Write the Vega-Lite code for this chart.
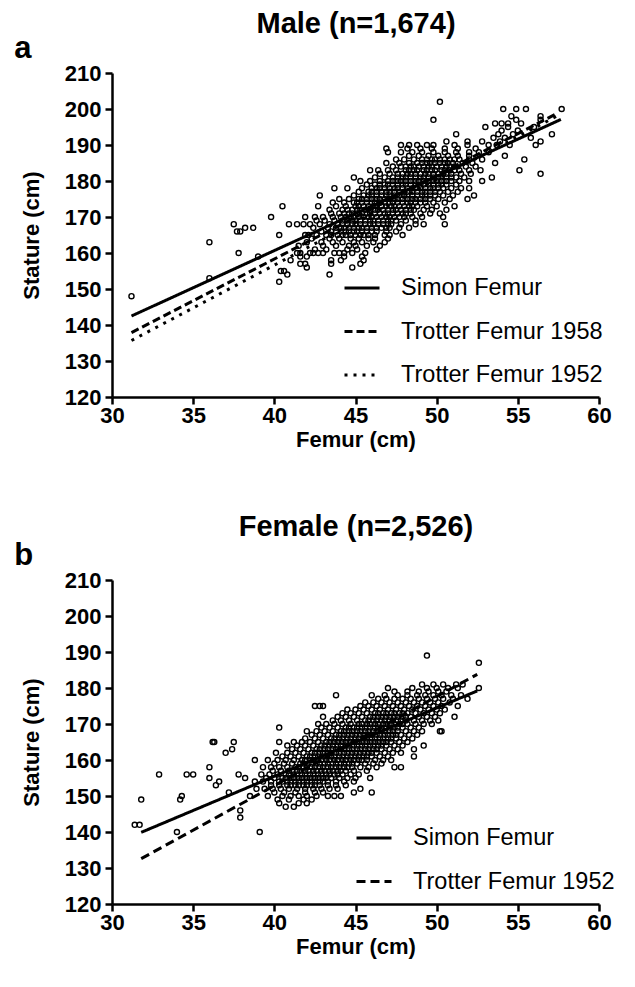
{
"$schema":"https://vega.github.io/schema/vega-lite/v6.json",
"background":"white",
"padding":{"left":14,"top":9,"right":5,"bottom":5},
"config":{
"font":"Liberation Sans",
"view":{"stroke":null},
"axis":{"grid":false,"domainColor":"#000","domainWidth":2.5,"tickColor":"#000","tickWidth":2.5,"tickSize":7,"labelFont":"Liberation Sans","labelFontSize":22,"labelFontWeight":"bold","labelColor":"#000","labelOverlap":false,"labelFlush":false,"titleFont":"Liberation Sans","titleFontSize":22,"titleFontWeight":"bold","titleColor":"#000","labelPadding":4},
"legend":{"symbolType":"stroke","symbolSize":1225,"symbolStrokeWidth":3,"symbolStrokeColor":"#000","labelFont":"Liberation Sans","labelFontSize":23.5,"labelColor":"#000","labelOffset":20,"labelLimit":400,"rowPadding":12.5,"title":null,"orient":"none"},
"title":{"font":"Liberation Sans","fontWeight":"bold","color":"#000"},
"concat":{"spacing":62}
},
"resolve":{"scale":{"strokeDash":"independent"},"legend":{"strokeDash":"independent"}},
"datasets":{
"maleLines":[
{"equation":"Simon Femur","femur":31.2,"stature":142.5},{"equation":"Simon Femur","femur":57.65,"stature":197.1},
{"equation":"Trotter Femur 1958","femur":31.2,"stature":137.9},{"equation":"Trotter Femur 1958","femur":57.3,"stature":198.5},
{"equation":"Trotter Femur 1952","femur":31.2,"stature":135.7},{"equation":"Trotter Femur 1952","femur":57.6,"stature":198.5}],
"femaleLines":[
{"equation":"Simon Femur","femur":31.8,"stature":139.9},{"equation":"Simon Femur","femur":52.5,"stature":179.2},
{"equation":"Trotter Femur 1952","femur":31.8,"stature":132.6},{"equation":"Trotter Femur 1952","femur":52.5,"stature":183.8}],
"male":[
{"femur":31.2,"stature":148},{"femur":40.3,"stature":152},{"femur":36.0,"stature":153},{"femur":43.4,"stature":154},{"femur":40.8,"stature":154},{"femur":40.4,"stature":155},{"femur":40.6,"stature":155},{"femur":42.0,"stature":156},{"femur":44.8,"stature":156},
{"femur":43.5,"stature":157},{"femur":41.6,"stature":157},{"femur":41.9,"stature":157},{"femur":45.3,"stature":157},
{"femur":41.0,"stature":158},{"femur":43.5,"stature":158},{"femur":44.1,"stature":158},{"femur":45.5,"stature":158},
{"femur":39.0,"stature":159},{"femur":41.6,"stature":159},{"femur":42.0,"stature":159},{"femur":44.3,"stature":159},{"femur":45.4,"stature":159},
{"femur":37.8,"stature":160},{"femur":41.4,"stature":160},{"femur":41.6,"stature":160},{"femur":42.2,"stature":160},{"femur":42.4,"stature":160},{"femur":42.7,"stature":160},{"femur":43.0,"stature":160},{"femur":43.7,"stature":160},{"femur":44.0,"stature":160},{"femur":44.3,"stature":160},{"femur":44.8,"stature":160},{"femur":45.6,"stature":160},
{"femur":42.5,"stature":161},{"femur":43.2,"stature":161},{"femur":44.5,"stature":161},{"femur":45.1,"stature":161},{"femur":46.3,"stature":161},
{"femur":41.5,"stature":162},{"femur":43.0,"stature":162},{"femur":43.8,"stature":162},{"femur":44.6,"stature":162},{"femur":45.0,"stature":162},{"femur":45.7,"stature":162},{"femur":46.5,"stature":162},
{"femur":36.0,"stature":163},{"femur":42.0,"stature":163},{"femur":42.9,"stature":163},{"femur":43.6,"stature":163},{"femur":44.2,"stature":163},{"femur":44.9,"stature":163},{"femur":45.4,"stature":163},{"femur":46.1,"stature":163},{"femur":46.8,"stature":163},
{"femur":42.3,"stature":164},{"femur":43.4,"stature":164},{"femur":44.0,"stature":164},{"femur":44.7,"stature":164},{"femur":45.2,"stature":164},{"femur":45.8,"stature":164},{"femur":46.2,"stature":164},{"femur":47.0,"stature":164},
{"femur":40.3,"stature":165},{"femur":41.9,"stature":165},{"femur":42.1,"stature":165},{"femur":42.6,"stature":165},{"femur":43.2,"stature":165},{"femur":43.9,"stature":165},{"femur":44.4,"stature":165},{"femur":45.0,"stature":165},{"femur":45.5,"stature":165},{"femur":46.2,"stature":165},{"femur":46.8,"stature":165},{"femur":47.1,"stature":165},{"femur":47.9,"stature":165},
{"femur":43.5,"stature":165},{"femur":44.2,"stature":165},{"femur":44.7,"stature":165},{"femur":45.3,"stature":165},{"femur":45.8,"stature":165},
{"femur":37.7,"stature":166},{"femur":37.9,"stature":166},{"femur":42.9,"stature":166},{"femur":43.5,"stature":166},{"femur":44.1,"stature":166},{"femur":44.6,"stature":166},{"femur":45.1,"stature":166},{"femur":45.7,"stature":166},{"femur":46.3,"stature":166},{"femur":46.9,"stature":166},{"femur":47.5,"stature":166},
{"femur":43.8,"stature":166},{"femur":44.4,"stature":166},{"femur":44.9,"stature":166},{"femur":45.4,"stature":166},{"femur":46.0,"stature":166},
{"femur":38.2,"stature":167},{"femur":38.7,"stature":167},{"femur":42.4,"stature":167},{"femur":43.3,"stature":167},{"femur":43.8,"stature":167},{"femur":44.3,"stature":167},{"femur":44.9,"stature":167},{"femur":45.4,"stature":167},{"femur":46.0,"stature":167},{"femur":46.6,"stature":167},{"femur":47.1,"stature":167},{"femur":47.7,"stature":167},{"femur":48.3,"stature":167},
{"femur":44.1,"stature":167},{"femur":44.6,"stature":167},{"femur":45.2,"stature":167},{"femur":45.7,"stature":167},{"femur":46.3,"stature":167},{"femur":46.9,"stature":167},
{"femur":37.5,"stature":168},{"femur":40.9,"stature":168},{"femur":41.4,"stature":168},{"femur":41.8,"stature":168},{"femur":42.2,"stature":168},{"femur":42.8,"stature":168},{"femur":43.4,"stature":168},{"femur":43.9,"stature":168},{"femur":44.5,"stature":168},{"femur":45.0,"stature":168},{"femur":45.6,"stature":168},{"femur":46.1,"stature":168},{"femur":46.7,"stature":168},{"femur":47.2,"stature":168},{"femur":47.8,"stature":168},{"femur":48.7,"stature":168},{"femur":49.2,"stature":168},{"femur":50.5,"stature":168},
{"femur":44.2,"stature":168},{"femur":44.8,"stature":168},{"femur":45.3,"stature":168},{"femur":45.9,"stature":168},{"femur":46.4,"stature":168},{"femur":47.0,"stature":168},
{"femur":42.6,"stature":169},{"femur":43.1,"stature":169},{"femur":43.7,"stature":169},{"femur":44.2,"stature":169},{"femur":44.8,"stature":169},{"femur":45.3,"stature":169},{"femur":45.9,"stature":169},{"femur":46.4,"stature":169},{"femur":47.0,"stature":169},{"femur":47.5,"stature":169},{"femur":48.1,"stature":169},{"femur":48.7,"stature":169},
{"femur":44.5,"stature":169},{"femur":45.0,"stature":169},{"femur":45.6,"stature":169},{"femur":46.1,"stature":169},{"femur":46.7,"stature":169},{"femur":47.2,"stature":169},
{"femur":39.8,"stature":170},{"femur":41.9,"stature":170},{"femur":42.5,"stature":170},{"femur":43.0,"stature":170},{"femur":43.6,"stature":170},{"femur":44.1,"stature":170},{"femur":44.7,"stature":170},{"femur":45.2,"stature":170},{"femur":45.8,"stature":170},{"femur":46.3,"stature":170},{"femur":46.9,"stature":170},{"femur":47.4,"stature":170},{"femur":48.0,"stature":170},{"femur":48.5,"stature":170},{"femur":49.1,"stature":170},{"femur":50.4,"stature":170},
{"femur":44.4,"stature":170},{"femur":44.9,"stature":170},{"femur":45.5,"stature":170},{"femur":46.0,"stature":170},{"femur":46.6,"stature":170},{"femur":47.1,"stature":170},{"femur":47.7,"stature":170},
{"femur":43.5,"stature":171},{"femur":44.0,"stature":171},{"femur":44.6,"stature":171},{"femur":45.1,"stature":171},{"femur":45.7,"stature":171},{"femur":46.2,"stature":171},{"femur":46.8,"stature":171},{"femur":47.3,"stature":171},{"femur":47.9,"stature":171},{"femur":48.4,"stature":171},{"femur":49.0,"stature":171},{"femur":49.6,"stature":171},{"femur":50.2,"stature":171},
{"femur":44.3,"stature":171},{"femur":44.8,"stature":171},{"femur":45.4,"stature":171},{"femur":45.9,"stature":171},{"femur":46.5,"stature":171},{"femur":47.0,"stature":171},{"femur":47.6,"stature":171},{"femur":48.1,"stature":171},
{"femur":43.4,"stature":172},{"femur":44.2,"stature":172},{"femur":44.8,"stature":172},{"femur":45.3,"stature":172},{"femur":45.9,"stature":172},{"femur":46.4,"stature":172},{"femur":47.0,"stature":172},{"femur":47.5,"stature":172},{"femur":48.1,"stature":172},{"femur":48.6,"stature":172},{"femur":49.2,"stature":172},{"femur":49.7,"stature":172},{"femur":50.6,"stature":172},
{"femur":44.5,"stature":172},{"femur":45.1,"stature":172},{"femur":45.6,"stature":172},{"femur":46.2,"stature":172},{"femur":46.7,"stature":172},{"femur":47.3,"stature":172},{"femur":47.8,"stature":172},{"femur":48.4,"stature":172},
{"femur":40.5,"stature":173},{"femur":42.7,"stature":173},{"femur":43.8,"stature":173},{"femur":44.4,"stature":173},{"femur":45.0,"stature":173},{"femur":45.5,"stature":173},{"femur":46.1,"stature":173},{"femur":46.6,"stature":173},{"femur":47.2,"stature":173},{"femur":47.7,"stature":173},{"femur":48.3,"stature":173},{"femur":48.8,"stature":173},{"femur":49.4,"stature":173},{"femur":50.0,"stature":173},{"femur":51.1,"stature":173},
{"femur":45.2,"stature":173},{"femur":45.8,"stature":173},{"femur":46.3,"stature":173},{"femur":46.9,"stature":173},{"femur":47.4,"stature":173},{"femur":48.0,"stature":173},{"femur":48.5,"stature":173},
{"femur":43.6,"stature":174},{"femur":44.3,"stature":174},{"femur":44.9,"stature":174},{"femur":45.4,"stature":174},{"femur":46.0,"stature":174},{"femur":46.5,"stature":174},{"femur":47.1,"stature":174},{"femur":47.6,"stature":174},{"femur":48.2,"stature":174},{"femur":48.7,"stature":174},{"femur":49.3,"stature":174},{"femur":49.8,"stature":174},{"femur":50.5,"stature":174},
{"femur":45.1,"stature":174},{"femur":45.7,"stature":174},{"femur":46.2,"stature":174},{"femur":46.8,"stature":174},{"femur":47.3,"stature":174},{"femur":47.9,"stature":174},{"femur":48.4,"stature":174},{"femur":49.0,"stature":174},
{"femur":44.0,"stature":175},{"femur":44.6,"stature":175},{"femur":45.2,"stature":175},{"femur":45.7,"stature":175},{"femur":46.3,"stature":175},{"femur":46.8,"stature":175},{"femur":47.4,"stature":175},{"femur":47.9,"stature":175},{"femur":48.5,"stature":175},{"femur":49.0,"stature":175},{"femur":49.6,"stature":175},{"femur":50.1,"stature":175},{"femur":50.8,"stature":175},{"femur":51.9,"stature":175},
{"femur":45.4,"stature":175},{"femur":46.0,"stature":175},{"femur":46.5,"stature":175},{"femur":47.1,"stature":175},{"femur":47.6,"stature":175},{"femur":48.2,"stature":175},{"femur":48.7,"stature":175},{"femur":49.3,"stature":175},
{"femur":42.8,"stature":176},{"femur":44.9,"stature":176},{"femur":45.5,"stature":176},{"femur":46.0,"stature":176},{"femur":46.6,"stature":176},{"femur":47.1,"stature":176},{"femur":47.7,"stature":176},{"femur":48.2,"stature":176},{"femur":48.8,"stature":176},{"femur":49.3,"stature":176},{"femur":49.9,"stature":176},{"femur":50.4,"stature":176},{"femur":51.0,"stature":176},{"femur":52.3,"stature":176},
{"femur":45.8,"stature":176},{"femur":46.3,"stature":176},{"femur":46.9,"stature":176},{"femur":47.4,"stature":176},{"femur":48.0,"stature":176},{"femur":48.5,"stature":176},{"femur":49.1,"stature":176},{"femur":49.6,"stature":176},
{"femur":45.2,"stature":177},{"femur":45.8,"stature":177},{"femur":46.3,"stature":177},{"femur":46.9,"stature":177},{"femur":47.4,"stature":177},{"femur":48.0,"stature":177},{"femur":48.5,"stature":177},{"femur":49.1,"stature":177},{"femur":49.6,"stature":177},{"femur":50.2,"stature":177},{"femur":50.7,"stature":177},{"femur":51.3,"stature":177},
{"femur":46.0,"stature":177},{"femur":46.6,"stature":177},{"femur":47.1,"stature":177},{"femur":47.7,"stature":177},{"femur":48.2,"stature":177},{"femur":48.8,"stature":177},{"femur":49.3,"stature":177},{"femur":49.9,"stature":177},
{"femur":43.7,"stature":178},{"femur":44.5,"stature":178},{"femur":45.4,"stature":178},{"femur":46.0,"stature":178},{"femur":46.5,"stature":178},{"femur":47.1,"stature":178},{"femur":47.6,"stature":178},{"femur":48.2,"stature":178},{"femur":48.7,"stature":178},{"femur":49.3,"stature":178},{"femur":49.8,"stature":178},{"femur":50.4,"stature":178},{"femur":50.9,"stature":178},{"femur":51.5,"stature":178},{"femur":52.0,"stature":178},
{"femur":46.3,"stature":178},{"femur":46.8,"stature":178},{"femur":47.4,"stature":178},{"femur":47.9,"stature":178},{"femur":48.5,"stature":178},{"femur":49.0,"stature":178},{"femur":49.6,"stature":178},{"femur":50.1,"stature":178},
{"femur":45.7,"stature":179},{"femur":46.2,"stature":179},{"femur":46.8,"stature":179},{"femur":47.3,"stature":179},{"femur":47.9,"stature":179},{"femur":48.4,"stature":179},{"femur":49.0,"stature":179},{"femur":49.5,"stature":179},{"femur":50.1,"stature":179},{"femur":50.6,"stature":179},{"femur":51.2,"stature":179},
{"femur":46.5,"stature":179},{"femur":47.0,"stature":179},{"femur":47.6,"stature":179},{"femur":48.1,"stature":179},{"femur":48.7,"stature":179},{"femur":49.2,"stature":179},{"femur":49.8,"stature":179},{"femur":50.3,"stature":179},
{"femur":45.3,"stature":180},{"femur":45.9,"stature":180},{"femur":46.5,"stature":180},{"femur":47.0,"stature":180},{"femur":47.6,"stature":180},{"femur":48.1,"stature":180},{"femur":48.7,"stature":180},{"femur":49.2,"stature":180},{"femur":49.8,"stature":180},{"femur":50.3,"stature":180},{"femur":50.9,"stature":180},{"femur":51.4,"stature":180},{"femur":52.0,"stature":180},{"femur":52.8,"stature":180},
{"femur":47.3,"stature":180},{"femur":47.8,"stature":180},{"femur":48.4,"stature":180},{"femur":48.9,"stature":180},{"femur":49.5,"stature":180},{"femur":50.0,"stature":180},{"femur":50.6,"stature":180},
{"femur":44.9,"stature":181},{"femur":46.2,"stature":181},{"femur":46.8,"stature":181},{"femur":47.3,"stature":181},{"femur":47.9,"stature":181},{"femur":48.4,"stature":181},{"femur":49.0,"stature":181},{"femur":49.5,"stature":181},{"femur":50.1,"stature":181},{"femur":50.6,"stature":181},{"femur":51.2,"stature":181},{"femur":51.7,"stature":181},{"femur":53.4,"stature":181},
{"femur":47.6,"stature":181},{"femur":48.1,"stature":181},{"femur":48.7,"stature":181},{"femur":49.2,"stature":181},{"femur":49.8,"stature":181},{"femur":50.3,"stature":181},{"femur":50.9,"stature":181},
{"femur":46.5,"stature":182},{"femur":47.1,"stature":182},{"femur":47.6,"stature":182},{"femur":48.2,"stature":182},{"femur":48.7,"stature":182},{"femur":49.3,"stature":182},{"femur":49.8,"stature":182},{"femur":50.4,"stature":182},{"femur":50.9,"stature":182},{"femur":51.5,"stature":182},{"femur":52.1,"stature":182},{"femur":56.4,"stature":182},
{"femur":47.9,"stature":182},{"femur":48.4,"stature":182},{"femur":49.0,"stature":182},{"femur":49.5,"stature":182},{"femur":50.1,"stature":182},{"femur":50.6,"stature":182},
{"femur":45.9,"stature":183},{"femur":46.4,"stature":183},{"femur":47.0,"stature":183},{"femur":47.5,"stature":183},{"femur":48.1,"stature":183},{"femur":48.6,"stature":183},{"femur":49.2,"stature":183},{"femur":49.7,"stature":183},{"femur":50.3,"stature":183},{"femur":50.8,"stature":183},{"femur":51.4,"stature":183},{"femur":52.0,"stature":183},{"femur":52.7,"stature":183},{"femur":55.1,"stature":183},
{"femur":48.3,"stature":183},{"femur":48.8,"stature":183},{"femur":49.4,"stature":183},{"femur":49.9,"stature":183},{"femur":50.5,"stature":183},{"femur":51.1,"stature":183},
{"femur":47.3,"stature":184},{"femur":47.8,"stature":184},{"femur":48.4,"stature":184},{"femur":48.9,"stature":184},{"femur":49.5,"stature":184},{"femur":50.0,"stature":184},{"femur":50.6,"stature":184},{"femur":51.1,"stature":184},{"femur":51.8,"stature":184},{"femur":52.4,"stature":184},
{"femur":48.1,"stature":184},{"femur":48.6,"stature":184},{"femur":49.2,"stature":184},{"femur":49.7,"stature":184},{"femur":50.3,"stature":184},{"femur":50.8,"stature":184},
{"femur":46.9,"stature":185},{"femur":47.7,"stature":185},{"femur":48.3,"stature":185},{"femur":48.8,"stature":185},{"femur":49.4,"stature":185},{"femur":49.9,"stature":185},{"femur":50.5,"stature":185},{"femur":51.0,"stature":185},{"femur":51.6,"stature":185},{"femur":52.2,"stature":185},{"femur":53.6,"stature":185},
{"femur":49.1,"stature":185},{"femur":49.6,"stature":185},{"femur":50.2,"stature":185},{"femur":50.7,"stature":185},
{"femur":47.5,"stature":186},{"femur":48.0,"stature":186},{"femur":48.6,"stature":186},{"femur":49.1,"stature":186},{"femur":49.7,"stature":186},{"femur":50.2,"stature":186},{"femur":50.8,"stature":186},{"femur":51.4,"stature":186},{"femur":52.0,"stature":186},{"femur":52.8,"stature":186},{"femur":55.4,"stature":186},
{"femur":49.4,"stature":186},{"femur":49.9,"stature":186},{"femur":50.5,"stature":186},{"femur":51.1,"stature":186},
{"femur":48.3,"stature":187},{"femur":48.9,"stature":187},{"femur":49.5,"stature":187},{"femur":50.1,"stature":187},{"femur":50.7,"stature":187},{"femur":51.3,"stature":187},{"femur":52.0,"stature":187},{"femur":54.2,"stature":187},
{"femur":47.0,"stature":188},{"femur":47.8,"stature":188},{"femur":48.5,"stature":188},{"femur":49.1,"stature":188},{"femur":49.8,"stature":188},{"femur":50.5,"stature":188},{"femur":51.2,"stature":188},{"femur":52.0,"stature":188},{"femur":52.6,"stature":188},{"femur":53.2,"stature":188},
{"femur":46.9,"stature":189},{"femur":48.2,"stature":189},{"femur":49.0,"stature":189},{"femur":49.7,"stature":189},{"femur":50.5,"stature":189},{"femur":51.3,"stature":189},{"femur":52.4,"stature":189},
{"femur":47.8,"stature":190},{"femur":48.3,"stature":190},{"femur":48.8,"stature":190},{"femur":49.4,"stature":190},{"femur":49.8,"stature":190},{"femur":51.1,"stature":190},{"femur":51.9,"stature":190},{"femur":53.2,"stature":190},{"femur":53.7,"stature":190},{"femur":54.5,"stature":190},{"femur":56.1,"stature":190},
{"femur":50.6,"stature":191},{"femur":51.9,"stature":191},{"femur":52.8,"stature":191},{"femur":53.9,"stature":191},{"femur":56.4,"stature":191},
{"femur":53.5,"stature":192},{"femur":54.2,"stature":192},{"femur":55.8,"stature":192},
{"femur":51.2,"stature":193},{"femur":53.8,"stature":193},{"femur":54.7,"stature":193},{"femur":57.1,"stature":193},
{"femur":54.0,"stature":194},{"femur":55.0,"stature":194},
{"femur":53.0,"stature":195},{"femur":54.4,"stature":195},{"femur":56.0,"stature":195},
{"femur":53.6,"stature":196},{"femur":54.0,"stature":196},{"femur":54.4,"stature":196},{"femur":55.2,"stature":196},
{"femur":49.8,"stature":197},{"femur":54.9,"stature":197},{"femur":56.4,"stature":197},
{"femur":54.6,"stature":198},{"femur":56.4,"stature":198},
{"femur":54.1,"stature":200},{"femur":54.9,"stature":200},{"femur":55.5,"stature":200},{"femur":57.7,"stature":200},
{"femur":50.2,"stature":202}],
"female":[
{"femur":34.0,"stature":140},{"femur":39.1,"stature":140},{"femur":31.4,"stature":142},{"femur":31.7,"stature":142},{"femur":37.9,"stature":144},{"femur":37.9,"stature":146},{"femur":40.7,"stature":147},{"femur":41.2,"stature":147},
{"femur":40.3,"stature":148},{"femur":41.5,"stature":148},{"femur":42.0,"stature":148},
{"femur":31.8,"stature":149},{"femur":34.2,"stature":149},{"femur":40.2,"stature":149},{"femur":40.9,"stature":149},{"femur":41.8,"stature":149},{"femur":42.3,"stature":149},
{"femur":34.3,"stature":150},{"femur":38.5,"stature":150},{"femur":39.6,"stature":150},{"femur":40.5,"stature":150},{"femur":41.0,"stature":150},{"femur":41.5,"stature":150},{"femur":42.0,"stature":150},{"femur":42.6,"stature":150},{"femur":43.3,"stature":150},{"femur":43.7,"stature":150},{"femur":44.1,"stature":150},
{"femur":37.2,"stature":151},{"femur":40.0,"stature":151},{"femur":40.6,"stature":151},{"femur":41.3,"stature":151},{"femur":41.9,"stature":151},{"femur":42.5,"stature":151},{"femur":43.0,"stature":151},{"femur":44.9,"stature":151},{"femur":46.0,"stature":151},
{"femur":38.9,"stature":152},{"femur":39.4,"stature":152},{"femur":39.9,"stature":152},{"femur":40.4,"stature":152},{"femur":40.9,"stature":152},{"femur":41.4,"stature":152},{"femur":41.9,"stature":152},{"femur":42.4,"stature":152},{"femur":42.9,"stature":152},{"femur":43.4,"stature":152},{"femur":43.9,"stature":152},{"femur":45.3,"stature":152},
{"femur":36.4,"stature":153},{"femur":39.8,"stature":153},{"femur":40.3,"stature":153},{"femur":40.8,"stature":153},{"femur":41.3,"stature":153},{"femur":41.8,"stature":153},{"femur":42.3,"stature":153},{"femur":42.8,"stature":153},{"femur":43.3,"stature":153},{"femur":43.8,"stature":153},{"femur":44.4,"stature":153},
{"femur":41.0,"stature":153},{"femur":41.5,"stature":153},{"femur":42.0,"stature":153},{"femur":42.5,"stature":153},
{"femur":36.6,"stature":154},{"femur":38.8,"stature":154},{"femur":39.3,"stature":154},{"femur":39.8,"stature":154},{"femur":40.3,"stature":154},{"femur":40.8,"stature":154},{"femur":41.3,"stature":154},{"femur":41.8,"stature":154},{"femur":42.3,"stature":154},{"femur":42.8,"stature":154},{"femur":43.3,"stature":154},{"femur":43.8,"stature":154},{"femur":44.3,"stature":154},{"femur":44.9,"stature":154},
{"femur":40.5,"stature":154},{"femur":41.0,"stature":154},{"femur":41.5,"stature":154},{"femur":42.0,"stature":154},{"femur":42.5,"stature":154},{"femur":43.0,"stature":154},
{"femur":36.0,"stature":155},{"femur":38.2,"stature":155},{"femur":39.5,"stature":155},{"femur":40.0,"stature":155},{"femur":40.5,"stature":155},{"femur":41.0,"stature":155},{"femur":41.5,"stature":155},{"femur":42.0,"stature":155},{"femur":42.5,"stature":155},{"femur":43.0,"stature":155},{"femur":43.5,"stature":155},{"femur":44.0,"stature":155},{"femur":44.5,"stature":155},{"femur":45.0,"stature":155},{"femur":45.9,"stature":155},
{"femur":40.7,"stature":155},{"femur":41.2,"stature":155},{"femur":41.7,"stature":155},{"femur":42.2,"stature":155},{"femur":42.7,"stature":155},{"femur":43.2,"stature":155},
{"femur":32.9,"stature":156},{"femur":34.6,"stature":156},{"femur":35.0,"stature":156},{"femur":37.8,"stature":156},{"femur":39.2,"stature":156},{"femur":39.7,"stature":156},{"femur":40.2,"stature":156},{"femur":40.7,"stature":156},{"femur":41.2,"stature":156},{"femur":41.7,"stature":156},{"femur":42.2,"stature":156},{"femur":42.7,"stature":156},{"femur":43.2,"stature":156},{"femur":43.7,"stature":156},{"femur":44.2,"stature":156},{"femur":44.7,"stature":156},{"femur":45.2,"stature":156},
{"femur":40.9,"stature":156},{"femur":41.4,"stature":156},{"femur":41.9,"stature":156},{"femur":42.4,"stature":156},{"femur":42.9,"stature":156},{"femur":43.4,"stature":156},{"femur":43.9,"stature":156},
{"femur":39.9,"stature":157},{"femur":40.4,"stature":157},{"femur":40.9,"stature":157},{"femur":41.4,"stature":157},{"femur":41.9,"stature":157},{"femur":42.4,"stature":157},{"femur":42.9,"stature":157},{"femur":43.4,"stature":157},{"femur":43.9,"stature":157},{"femur":44.4,"stature":157},{"femur":44.9,"stature":157},{"femur":45.7,"stature":157},
{"femur":41.1,"stature":157},{"femur":41.6,"stature":157},{"femur":42.1,"stature":157},{"femur":42.6,"stature":157},{"femur":43.1,"stature":157},{"femur":43.6,"stature":157},{"femur":44.1,"stature":157},
{"femur":36.0,"stature":158},{"femur":39.3,"stature":158},{"femur":39.8,"stature":158},{"femur":40.3,"stature":158},{"femur":40.8,"stature":158},{"femur":41.3,"stature":158},{"femur":41.8,"stature":158},{"femur":42.3,"stature":158},{"femur":42.8,"stature":158},{"femur":43.3,"stature":158},{"femur":43.8,"stature":158},{"femur":44.3,"stature":158},{"femur":44.8,"stature":158},{"femur":45.3,"stature":158},{"femur":45.8,"stature":158},{"femur":46.3,"stature":158},{"femur":47.4,"stature":158},{"femur":47.8,"stature":158},
{"femur":41.5,"stature":158},{"femur":42.0,"stature":158},{"femur":42.5,"stature":158},{"femur":43.0,"stature":158},{"femur":43.5,"stature":158},{"femur":44.0,"stature":158},{"femur":44.5,"stature":158},
{"femur":40.0,"stature":159},{"femur":40.6,"stature":159},{"femur":41.1,"stature":159},{"femur":41.6,"stature":159},{"femur":42.1,"stature":159},{"femur":42.6,"stature":159},{"femur":43.1,"stature":159},{"femur":43.6,"stature":159},{"femur":44.1,"stature":159},{"femur":44.6,"stature":159},{"femur":45.1,"stature":159},{"femur":45.6,"stature":159},{"femur":46.1,"stature":159},{"femur":46.6,"stature":159},
{"femur":41.8,"stature":159},{"femur":42.3,"stature":159},{"femur":42.8,"stature":159},{"femur":43.3,"stature":159},{"femur":43.8,"stature":159},{"femur":44.3,"stature":159},{"femur":44.8,"stature":159},
{"femur":38.8,"stature":160},{"femur":39.6,"stature":160},{"femur":40.2,"stature":160},{"femur":40.7,"stature":160},{"femur":41.2,"stature":160},{"femur":41.7,"stature":160},{"femur":42.2,"stature":160},{"femur":42.7,"stature":160},{"femur":43.2,"stature":160},{"femur":43.7,"stature":160},{"femur":44.2,"stature":160},{"femur":44.7,"stature":160},{"femur":45.2,"stature":160},{"femur":45.7,"stature":160},{"femur":46.2,"stature":160},{"femur":46.7,"stature":160},{"femur":47.2,"stature":160},
{"femur":41.9,"stature":160},{"femur":42.4,"stature":160},{"femur":42.9,"stature":160},{"femur":43.4,"stature":160},{"femur":43.9,"stature":160},{"femur":44.4,"stature":160},{"femur":44.9,"stature":160},{"femur":45.4,"stature":160},
{"femur":40.5,"stature":161},{"femur":41.0,"stature":161},{"femur":41.5,"stature":161},{"femur":42.0,"stature":161},{"femur":42.5,"stature":161},{"femur":43.0,"stature":161},{"femur":43.5,"stature":161},{"femur":44.0,"stature":161},{"femur":44.5,"stature":161},{"femur":45.0,"stature":161},{"femur":45.5,"stature":161},{"femur":46.0,"stature":161},{"femur":46.5,"stature":161},{"femur":47.0,"stature":161},{"femur":48.6,"stature":161},
{"femur":42.2,"stature":161},{"femur":42.7,"stature":161},{"femur":43.2,"stature":161},{"femur":43.7,"stature":161},{"femur":44.2,"stature":161},{"femur":44.7,"stature":161},{"femur":45.2,"stature":161},{"femur":45.7,"stature":161},
{"femur":37.0,"stature":162},{"femur":40.1,"stature":162},{"femur":40.8,"stature":162},{"femur":41.3,"stature":162},{"femur":41.8,"stature":162},{"femur":42.3,"stature":162},{"femur":42.8,"stature":162},{"femur":43.3,"stature":162},{"femur":43.8,"stature":162},{"femur":44.3,"stature":162},{"femur":44.8,"stature":162},{"femur":45.3,"stature":162},{"femur":45.8,"stature":162},{"femur":46.3,"stature":162},{"femur":46.8,"stature":162},{"femur":47.3,"stature":162},{"femur":47.8,"stature":162},
{"femur":42.5,"stature":162},{"femur":43.0,"stature":162},{"femur":43.5,"stature":162},{"femur":44.0,"stature":162},{"femur":44.5,"stature":162},{"femur":45.0,"stature":162},{"femur":45.5,"stature":162},{"femur":46.0,"stature":162},
{"femur":37.4,"stature":163},{"femur":41.1,"stature":163},{"femur":41.6,"stature":163},{"femur":42.1,"stature":163},{"femur":42.6,"stature":163},{"femur":43.1,"stature":163},{"femur":43.6,"stature":163},{"femur":44.1,"stature":163},{"femur":44.6,"stature":163},{"femur":45.1,"stature":163},{"femur":45.6,"stature":163},{"femur":46.1,"stature":163},{"femur":46.6,"stature":163},{"femur":47.1,"stature":163},{"femur":47.6,"stature":163},{"femur":48.6,"stature":163},
{"femur":42.8,"stature":163},{"femur":43.3,"stature":163},{"femur":43.8,"stature":163},{"femur":44.3,"stature":163},{"femur":44.8,"stature":163},{"femur":45.3,"stature":163},{"femur":45.8,"stature":163},{"femur":46.3,"stature":163},
{"femur":40.8,"stature":164},{"femur":41.4,"stature":164},{"femur":41.9,"stature":164},{"femur":42.4,"stature":164},{"femur":42.9,"stature":164},{"femur":43.4,"stature":164},{"femur":43.9,"stature":164},{"femur":44.4,"stature":164},{"femur":44.9,"stature":164},{"femur":45.4,"stature":164},{"femur":45.9,"stature":164},{"femur":46.4,"stature":164},{"femur":46.9,"stature":164},{"femur":47.4,"stature":164},{"femur":47.9,"stature":164},{"femur":49.2,"stature":164},
{"femur":43.1,"stature":164},{"femur":43.6,"stature":164},{"femur":44.1,"stature":164},{"femur":44.6,"stature":164},{"femur":45.1,"stature":164},{"femur":45.6,"stature":164},{"femur":46.1,"stature":164},{"femur":46.6,"stature":164},
{"femur":36.2,"stature":165},{"femur":36.3,"stature":165},{"femur":37.5,"stature":165},{"femur":40.3,"stature":165},{"femur":41.2,"stature":165},{"femur":41.7,"stature":165},{"femur":42.2,"stature":165},{"femur":42.7,"stature":165},{"femur":43.2,"stature":165},{"femur":43.7,"stature":165},{"femur":44.2,"stature":165},{"femur":44.7,"stature":165},{"femur":45.2,"stature":165},{"femur":45.7,"stature":165},{"femur":46.2,"stature":165},{"femur":46.7,"stature":165},{"femur":47.2,"stature":165},{"femur":47.7,"stature":165},{"femur":48.2,"stature":165},
{"femur":43.4,"stature":165},{"femur":43.9,"stature":165},{"femur":44.4,"stature":165},{"femur":44.9,"stature":165},{"femur":45.4,"stature":165},{"femur":45.9,"stature":165},{"femur":46.4,"stature":165},{"femur":46.9,"stature":165},
{"femur":41.9,"stature":166},{"femur":42.5,"stature":166},{"femur":43.0,"stature":166},{"femur":43.5,"stature":166},{"femur":44.0,"stature":166},{"femur":44.5,"stature":166},{"femur":45.0,"stature":166},{"femur":45.5,"stature":166},{"femur":46.0,"stature":166},{"femur":46.5,"stature":166},{"femur":47.0,"stature":166},{"femur":47.5,"stature":166},{"femur":48.0,"stature":166},{"femur":48.5,"stature":166},
{"femur":43.7,"stature":166},{"femur":44.2,"stature":166},{"femur":44.7,"stature":166},{"femur":45.2,"stature":166},{"femur":45.7,"stature":166},{"femur":46.2,"stature":166},{"femur":46.7,"stature":166},{"femur":47.2,"stature":166},
{"femur":42.3,"stature":167},{"femur":42.8,"stature":167},{"femur":43.3,"stature":167},{"femur":43.8,"stature":167},{"femur":44.3,"stature":167},{"femur":44.8,"stature":167},{"femur":45.3,"stature":167},{"femur":45.8,"stature":167},{"femur":46.3,"stature":167},{"femur":46.8,"stature":167},{"femur":47.3,"stature":167},{"femur":47.8,"stature":167},{"femur":48.3,"stature":167},{"femur":48.8,"stature":167},
{"femur":44.0,"stature":167},{"femur":44.5,"stature":167},{"femur":45.0,"stature":167},{"femur":45.5,"stature":167},{"femur":46.0,"stature":167},{"femur":46.5,"stature":167},{"femur":47.0,"stature":167},{"femur":47.5,"stature":167},
{"femur":42.0,"stature":168},{"femur":42.6,"stature":168},{"femur":43.1,"stature":168},{"femur":43.6,"stature":168},{"femur":44.1,"stature":168},{"femur":44.6,"stature":168},{"femur":45.1,"stature":168},{"femur":45.6,"stature":168},{"femur":46.1,"stature":168},{"femur":46.6,"stature":168},{"femur":47.1,"stature":168},{"femur":47.6,"stature":168},{"femur":48.1,"stature":168},{"femur":48.6,"stature":168},{"femur":49.1,"stature":168},{"femur":50.2,"stature":168},{"femur":50.3,"stature":168},
{"femur":44.3,"stature":168},{"femur":44.8,"stature":168},{"femur":45.3,"stature":168},{"femur":45.8,"stature":168},{"femur":46.3,"stature":168},{"femur":46.8,"stature":168},{"femur":47.3,"stature":168},
{"femur":40.3,"stature":169},{"femur":42.9,"stature":169},{"femur":43.4,"stature":169},{"femur":43.9,"stature":169},{"femur":44.4,"stature":169},{"femur":44.9,"stature":169},{"femur":45.4,"stature":169},{"femur":45.9,"stature":169},{"femur":46.4,"stature":169},{"femur":46.9,"stature":169},{"femur":47.4,"stature":169},{"femur":47.9,"stature":169},{"femur":48.4,"stature":169},{"femur":48.9,"stature":169},
{"femur":44.6,"stature":169},{"femur":45.1,"stature":169},{"femur":45.6,"stature":169},{"femur":46.1,"stature":169},{"femur":46.6,"stature":169},{"femur":47.1,"stature":169},{"femur":47.6,"stature":169},
{"femur":42.7,"stature":170},{"femur":43.2,"stature":170},{"femur":43.7,"stature":170},{"femur":44.2,"stature":170},{"femur":44.7,"stature":170},{"femur":45.2,"stature":170},{"femur":45.7,"stature":170},{"femur":46.2,"stature":170},{"femur":46.7,"stature":170},{"femur":47.2,"stature":170},{"femur":47.7,"stature":170},{"femur":48.2,"stature":170},{"femur":48.7,"stature":170},{"femur":49.2,"stature":170},{"femur":49.7,"stature":170},
{"femur":45.4,"stature":170},{"femur":45.9,"stature":170},{"femur":46.4,"stature":170},{"femur":46.9,"stature":170},{"femur":47.4,"stature":170},{"femur":47.9,"stature":170},
{"femur":43.6,"stature":171},{"femur":44.1,"stature":171},{"femur":44.6,"stature":171},{"femur":45.1,"stature":171},{"femur":45.6,"stature":171},{"femur":46.1,"stature":171},{"femur":46.6,"stature":171},{"femur":47.1,"stature":171},{"femur":47.6,"stature":171},{"femur":48.1,"stature":171},{"femur":48.6,"stature":171},{"femur":49.1,"stature":171},{"femur":49.6,"stature":171},{"femur":50.1,"stature":171},
{"femur":45.8,"stature":171},{"femur":46.3,"stature":171},{"femur":46.8,"stature":171},{"femur":47.3,"stature":171},{"femur":47.8,"stature":171},
{"femur":43.0,"stature":172},{"femur":43.9,"stature":172},{"femur":44.4,"stature":172},{"femur":44.9,"stature":172},{"femur":45.4,"stature":172},{"femur":45.9,"stature":172},{"femur":46.4,"stature":172},{"femur":46.9,"stature":172},{"femur":47.4,"stature":172},{"femur":47.9,"stature":172},{"femur":48.4,"stature":172},{"femur":48.9,"stature":172},{"femur":49.4,"stature":172},{"femur":49.9,"stature":172},{"femur":51.1,"stature":172},
{"femur":46.1,"stature":172},{"femur":46.6,"stature":172},{"femur":47.1,"stature":172},{"femur":47.6,"stature":172},{"femur":48.1,"stature":172},
{"femur":44.2,"stature":173},{"femur":44.7,"stature":173},{"femur":45.2,"stature":173},{"femur":45.7,"stature":173},{"femur":46.2,"stature":173},{"femur":46.7,"stature":173},{"femur":47.2,"stature":173},{"femur":47.7,"stature":173},{"femur":48.2,"stature":173},{"femur":48.7,"stature":173},{"femur":49.2,"stature":173},{"femur":49.7,"stature":173},{"femur":50.2,"stature":173},
{"femur":46.4,"stature":173},{"femur":46.9,"stature":173},{"femur":47.4,"stature":173},{"femur":47.9,"stature":173},
{"femur":44.5,"stature":174},{"femur":45.0,"stature":174},{"femur":45.5,"stature":174},{"femur":46.0,"stature":174},{"femur":46.5,"stature":174},{"femur":47.0,"stature":174},{"femur":47.5,"stature":174},{"femur":48.0,"stature":174},{"femur":48.5,"stature":174},{"femur":49.0,"stature":174},{"femur":49.5,"stature":174},{"femur":50.0,"stature":174},{"femur":50.5,"stature":174},
{"femur":42.5,"stature":175},{"femur":42.8,"stature":175},{"femur":43.0,"stature":175},{"femur":45.3,"stature":175},{"femur":45.8,"stature":175},{"femur":46.3,"stature":175},{"femur":46.8,"stature":175},{"femur":47.3,"stature":175},{"femur":47.8,"stature":175},{"femur":48.3,"stature":175},{"femur":48.8,"stature":175},{"femur":49.3,"stature":175},{"femur":49.8,"stature":175},{"femur":50.3,"stature":175},{"femur":51.3,"stature":175},
{"femur":45.6,"stature":176},{"femur":46.1,"stature":176},{"femur":46.6,"stature":176},{"femur":47.1,"stature":176},{"femur":47.6,"stature":176},{"femur":48.1,"stature":176},{"femur":48.6,"stature":176},{"femur":49.1,"stature":176},{"femur":49.6,"stature":176},{"femur":50.1,"stature":176},{"femur":50.8,"stature":176},
{"femur":46.4,"stature":177},{"femur":46.9,"stature":177},{"femur":47.4,"stature":177},{"femur":47.9,"stature":177},{"femur":48.4,"stature":177},{"femur":48.9,"stature":177},{"femur":49.4,"stature":177},{"femur":49.9,"stature":177},{"femur":50.4,"stature":177},{"femur":51.0,"stature":177},{"femur":51.9,"stature":177},
{"femur":43.8,"stature":178},{"femur":46.0,"stature":178},{"femur":46.8,"stature":178},{"femur":47.6,"stature":178},{"femur":48.2,"stature":178},{"femur":48.8,"stature":178},{"femur":49.3,"stature":178},{"femur":49.8,"stature":178},{"femur":50.3,"stature":178},{"femur":50.9,"stature":178},{"femur":51.5,"stature":178},
{"femur":47.4,"stature":179},{"femur":48.2,"stature":179},{"femur":48.9,"stature":179},{"femur":49.5,"stature":179},{"femur":50.1,"stature":179},{"femur":50.6,"stature":179},
{"femur":47.0,"stature":180},{"femur":48.5,"stature":180},{"femur":49.4,"stature":180},{"femur":50.0,"stature":180},{"femur":50.7,"stature":180},{"femur":51.3,"stature":180},{"femur":52.6,"stature":180},
{"femur":49.1,"stature":181},{"femur":49.8,"stature":181},{"femur":50.4,"stature":181},{"femur":51.2,"stature":181},{"femur":51.6,"stature":181},
{"femur":52.6,"stature":187},{"femur":49.4,"stature":189}]
},
"vconcat":[
{
"width":487,"height":324,
"title":{"text":"a","anchor":"start","frame":"bounds","fontSize":31,"baseline":"alphabetic","dy":84,"dx":-6},
"resolve":{"axis":{"x":"independent"}},
"layer":[
{"data":{"name":"male"},
"mark":{"type":"point","shape":"circle","filled":false,"size":26,"strokeWidth":1.4,"color":"#000","opacity":1},
"encoding":{
"x":{"field":"femur","type":"quantitative","scale":{"domain":[30,60],"nice":false,"zero":false},"axis":{"orient":"bottom","values":[30,35,40,45,50,55,60],"title":"Femur (cm)","labelPadding":1,"titlePadding":3}},
"y":{"field":"stature","type":"quantitative","scale":{"domain":[120,210],"nice":false,"zero":false},"axis":{"values":[120,130,140,150,160,170,180,190,200,210],"title":"Stature (cm)","titlePadding":21}}}},
{"data":{"name":"maleLines"},
"mark":{"type":"line","strokeWidth":3,"color":"#000"},
"encoding":{
"x":{"field":"femur","type":"quantitative","axis":{"orient":"top","domain":false,"ticks":false,"labels":false,"title":"Male (n=1,674)","titleFontSize":29,"titleY":-41,"titleBaseline":"alphabetic"}},
"y":{"field":"stature","type":"quantitative","axis":{"values":[120,130,140,150,160,170,180,190,200,210],"title":"Stature (cm)","titlePadding":21}},
"strokeDash":{"field":"equation","type":"nominal","scale":{"domain":["Simon Femur","Trotter Femur 1958","Trotter Femur 1952"],"range":[[1,0],[8,4],[3,6]]},"legend":{"orient":"none","legendX":231,"legendY":196}}}}
]
},
{
"width":487,"height":324,
"title":{"text":"b","anchor":"start","frame":"bounds","fontSize":31,"baseline":"alphabetic","dy":88,"dx":-6},
"resolve":{"axis":{"x":"independent"}},
"layer":[
{"data":{"name":"female"},
"mark":{"type":"point","shape":"circle","filled":false,"size":26,"strokeWidth":1.4,"color":"#000","opacity":1},
"encoding":{
"x":{"field":"femur","type":"quantitative","scale":{"domain":[30,60],"nice":false,"zero":false},"axis":{"orient":"bottom","values":[30,35,40,45,50,55,60],"title":"Femur (cm)","labelPadding":1,"titlePadding":3}},
"y":{"field":"stature","type":"quantitative","scale":{"domain":[120,210],"nice":false,"zero":false},"axis":{"values":[120,130,140,150,160,170,180,190,200,210],"title":"Stature (cm)","titlePadding":21}}}},
{"data":{"name":"femaleLines"},
"mark":{"type":"line","strokeWidth":3,"color":"#000"},
"encoding":{
"x":{"field":"femur","type":"quantitative","axis":{"orient":"top","domain":false,"ticks":false,"labels":false,"title":"Female (n=2,526)","titleFontSize":29,"titleY":-45,"titleBaseline":"alphabetic"}},
"y":{"field":"stature","type":"quantitative","axis":{"values":[120,130,140,150,160,170,180,190,200,210],"title":"Stature (cm)","titlePadding":21}},
"strokeDash":{"field":"equation","type":"nominal","scale":{"domain":["Simon Femur","Trotter Femur 1952"],"range":[[1,0],[9,5]]},"legend":{"orient":"none","legendX":243,"legendY":239}}}}
]
}
]
}
